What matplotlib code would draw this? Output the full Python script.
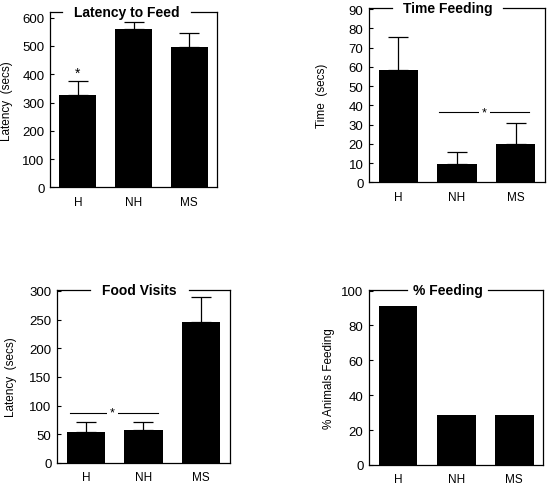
import numpy as np
import matplotlib
matplotlib.use("Agg")
import matplotlib.pyplot as plt

plt.rcParams['font.family'] = ['Liberation Sans', 'DejaVu Sans']

groups = ['H', 'NH', 'MS']

# Latency to Feed
latency_mean = [328, 561, 497]
latency_err = [47, 25, 50]

# Time Feeding
time_mean = [58.3, 9.4, 20.0]
time_err = [17.0, 6.5, 10.8]

# Food Visits
visits_mean = [54, 57, 246]
visits_err = [17, 14, 44]

# % Feeding
pct_feeding = [90.9, 28.6, 28.6]


def style_axes(ax, ylim, yticks, ylabel, title, gap, label_x):
    x = np.arange(len(groups))
    ax.set_xlim(-0.5, 2.5)
    ax.set_ylim(*ylim)
    ax.set_yticks(yticks)
    ax.set_xticks(x)
    ax.set_xticklabels(groups)
    ax.tick_params(axis='y', direction='in', length=3, width=0.8,
                   labelsize=9.5, pad=4)
    ax.tick_params(axis='x', length=0, labelsize=8.5, pad=6)
    for s in ['left', 'right', 'bottom']:
        ax.spines[s].set_linewidth(0.9)
    ax.spines['top'].set_visible(False)
    ax.set_ylabel(ylabel, fontsize=8.5)
    ax.yaxis.set_label_coords(label_x, 0.5)
    # top frame line is broken where the title sits
    g0, g1 = gap
    ax.plot([0, g0], [1, 1], transform=ax.transAxes, color='black',
            lw=0.9, clip_on=False)
    ax.plot([g1, 1], [1, 1], transform=ax.transAxes, color='black',
            lw=0.9, clip_on=False)
    ax.text((g0 + g1) / 2, 1.0, title, transform=ax.transAxes, ha='center',
            va='center', fontsize=10, fontweight='bold', clip_on=False)


def bars(ax, means, errs=None):
    x = np.arange(len(groups))
    ax.bar(x, means, width=0.67, color='black', zorder=2)
    if errs is not None:
        ax.errorbar(x, means, yerr=[np.zeros(len(errs)), errs], fmt='none',
                    ecolor='black', elinewidth=0.9, capsize=7, capthick=0.9,
                    zorder=1)


def sig_line(ax, x0, x1, xs, y):
    ax.plot([x0, x1], [y, y], color='black', lw=0.8, zorder=3)
    ax.text(xs, y, '*', ha='center', va='center', fontsize=9, zorder=4,
            bbox=dict(boxstyle='square,pad=0.25', fc='white', ec='none'))


fig = plt.figure(figsize=(5.49, 4.85), dpi=100)

ax1 = fig.add_axes([0.0911, 0.6117, 0.3042, 0.3614])
bars(ax1, latency_mean, latency_err)
ax1.text(0, 405, '*', ha='center', va='center', fontsize=10)
style_axes(ax1, (0, 620), range(0, 601, 100), 'Latency  (secs)',
           'Latency to Feed', (0.072, 0.844), -0.22)

ax2 = fig.add_axes([0.6721, 0.6221, 0.3206, 0.3588])
bars(ax2, time_mean, time_err)
sig_line(ax2, 0.70, 2.22, 1.47, 36.4)
style_axes(ax2, (0, 90.4), range(0, 91, 10), 'Time  (secs)',
           'Time Feeding', (0.131, 0.761), -0.233)

ax3 = fig.add_axes([0.1038, 0.0433, 0.3151, 0.3573])
bars(ax3, visits_mean, visits_err)
sig_line(ax3, -0.27, 1.25, 0.46, 87.6)
style_axes(ax3, (0, 302), range(0, 301, 50), 'Latency  (secs)',
           'Food Visits', (0.191, 0.763), -0.233)

ax4 = fig.add_axes([0.6721, 0.0392, 0.3175, 0.3614])
bars(ax4, pct_feeding)
style_axes(ax4, (0, 100.5), range(0, 101, 20), '% Animals Feeding',
           '% Feeding', (0.217, 0.684), -0.195)

fig.savefig('out.png', dpi=100)
